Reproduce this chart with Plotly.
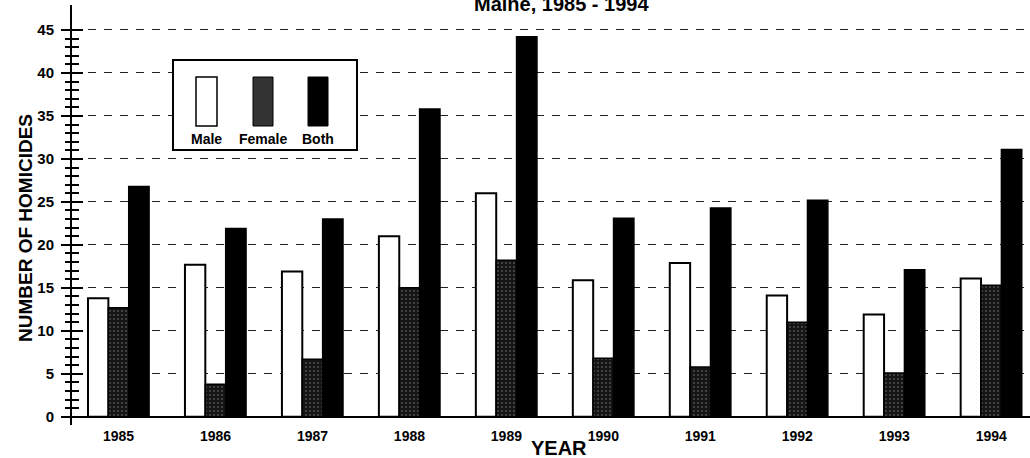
import plotly.graph_objects as go

# ---- data ----
years = ["1985", "1986", "1987", "1988", "1989", "1990", "1991", "1992", "1993", "1994"]
male = [13.8, 17.7, 16.9, 21.0, 26.0, 15.9, 17.9, 14.1, 11.9, 16.1]
female = [12.7, 3.8, 6.7, 15.0, 18.2, 6.8, 5.8, 11.0, 5.1, 15.3]
both = [26.8, 21.9, 23.0, 35.8, 44.2, 23.1, 24.3, 25.2, 17.1, 31.1]
series_names = ["Male", "Female", "Both"]
major_ticks = [0, 5, 10, 15, 20, 25, 30, 35, 40, 45]
title_text = "Maine, 1985 - 1994"
ytitle_text = "NUMBER OF HOMICIDES"
xtitle_text = "YEAR"

FONT = "Arial, Liberation Sans, Helvetica, sans-serif"
W_FIG, H_FIG = 1030, 458
L, T, R, B = 72, 5, 0, 33
PW, PH = W_FIG - L - R, H_FIG - T - B


def px(x):
    return (x - L) / PW


def py(y):
    return (T + PH - y) / PH


xs = list(range(len(years)))
fig = go.Figure()
fig.add_trace(go.Bar(x=xs, y=male, name=series_names[0],
                     marker=dict(color="white", line=dict(color="black", width=2))))
fig.add_trace(go.Bar(x=xs, y=female, name=series_names[1],
                     marker=dict(color="#151515", line=dict(color="black", width=1.5),
                                 pattern=dict(shape=".", fgcolor="#4e4e4e", bgcolor="#151515",
                                              size=4, solidity=0.2, fillmode="replace"))))
fig.add_trace(go.Bar(x=xs, y=both, name=series_names[2],
                     marker=dict(color="black", line=dict(color="black", width=1.5))))
# invisible helper trace so the overlay axis (inside half of the tick crosses) is drawn
fig.add_trace(go.Scatter(x=xs, y=both, yaxis="y2", mode="markers",
                         marker=dict(opacity=0), hoverinfo="skip", showlegend=False))

minor_vals = [v for v in range(0, 46) if v % 5 != 0]
yrange = [-0.95, 47.9]

fig.update_layout(
    width=W_FIG, height=H_FIG,
    margin=dict(l=L, r=R, t=T, b=B, autoexpand=False),
    paper_bgcolor="white", plot_bgcolor="white",
    barmode="group", bargap=0.37, bargroupgap=0,
    showlegend=False,
    font=dict(family=FONT, color="black"),
    xaxis=dict(
        range=[-0.48, 9.4], tickmode="array", tickvals=xs, ticktext=years,
        showgrid=False, showline=False, zeroline=False, ticks="", automargin=False,
        tickfont=dict(family=FONT, size=14, color="black", weight="bold"),
        ticklabelstandoff=1,
    ),
    yaxis=dict(
        range=yrange, tickmode="array", tickvals=major_ticks, automargin=False,
        showgrid=True, gridcolor="#222222", gridwidth=1, griddash="8px,8px",
        zeroline=True, zerolinecolor="black", zerolinewidth=2,
        showline=True, linecolor="black", linewidth=2,
        ticks="outside", ticklen=9, tickwidth=2, tickcolor="black",
        minor=dict(tickmode="array", tickvals=minor_vals, ticks="outside",
                   ticklen=5, tickwidth=2, tickcolor="black", showgrid=False),
        tickfont=dict(family=FONT, size=15, color="black", weight="bold"),
        ticklabelstandoff=4,
    ),
    yaxis2=dict(
        range=yrange, overlaying="y", side="left", anchor="x", automargin=False,
        tickmode="array", tickvals=major_ticks,
        showgrid=False, zeroline=False, showline=False, showticklabels=False,
        ticks="inside", ticklen=11, tickwidth=2, tickcolor="black",
        minor=dict(tickmode="array", tickvals=minor_vals, ticks="inside",
                   ticklen=7, tickwidth=2, tickcolor="black", showgrid=False),
    ),
)

shapes = [
    # white strip hiding the stray frame line at the plot's bottom edge
    dict(type="rect", xref="paper", yref="paper", x0=px(73.5), x1=1.0, y0=py(429), y1=py(419.5),
         fillcolor="white", line=dict(width=0), layer="above"),
    # custom legend box
    dict(type="rect", xref="paper", yref="paper", x0=px(173), x1=px(357), y0=py(150), y1=py(60),
         fillcolor="white", line=dict(color="black", width=2), layer="above"),
    dict(type="rect", xref="paper", yref="paper", x0=px(196), x1=px(217), y0=py(126), y1=py(77),
         fillcolor="white", line=dict(color="black", width=1.5), layer="above"),
    dict(type="rect", xref="paper", yref="paper", x0=px(253), x1=px(273), y0=py(126), y1=py(77),
         fillcolor="#333333", line=dict(color="black", width=1), layer="above"),
    dict(type="rect", xref="paper", yref="paper", x0=px(308), x1=px(328), y0=py(126), y1=py(77),
         fillcolor="black", line=dict(color="black", width=1), layer="above"),
]
fig.update_layout(shapes=shapes)

anns = []
for name, cx in zip(series_names, [206, 263, 318]):
    anns.append(dict(text=name, xref="paper", yref="paper", x=px(cx), y=py(139),
                     xanchor="center", yanchor="middle", showarrow=False,
                     font=dict(family=FONT, size=14, color="black", weight="bold")))
anns.append(dict(text=title_text, xref="paper", yref="paper", x=px(561), y=py(17),
                 xanchor="center", yanchor="bottom", showarrow=False,
                 font=dict(family=FONT, size=20, color="black", weight="bold")))
anns.append(dict(text=ytitle_text, xref="paper", yref="paper", x=px(25), y=py(228),
                 xanchor="center", yanchor="middle", textangle=-90, showarrow=False,
                 font=dict(family=FONT, size=19, color="black", weight="bold")))
anns.append(dict(text=xtitle_text, xref="paper", yref="paper", x=px(559), y=py(448),
                 xanchor="center", yanchor="middle", showarrow=False,
                 font=dict(family=FONT, size=20, color="black", weight="bold")))
fig.update_layout(annotations=anns)

fig.write_html("out.html", config={"displayModeBar": False},
               post_script="document.body.style.margin='0px';document.body.style.padding='0px';")
